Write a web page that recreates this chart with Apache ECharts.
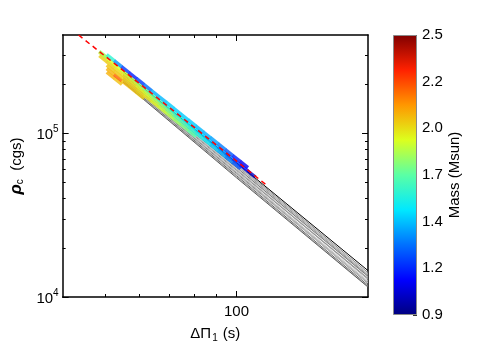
<!DOCTYPE html>
<html><head><meta charset="utf-8">
<script src="https://cdn.jsdelivr.net/npm/echarts@6/dist/echarts.min.js"></script>
<style>html,body{margin:0;padding:0;background:#fff}#c{width:491px;height:350px}</style>
</head><body><div id="c"></div>
<script>
// ---------- data ----------
const xRange = [40, 200];
const yRange = [1e4, 4.0e5];
const xMajor = [100];
const xMinor = [50, 60, 70, 80, 90];
const yMajor = [1e4, 1e5];
const yMinor = [2e4, 3e4, 4e4, 5e4, 6e4, 7e4, 8e4, 9e4, 2e5, 3e5];
const massRange = [0.9, 2.5];
const massLabels = [0.9, 1.1667, 1.4333, 1.7, 1.9667, 2.2333, 2.5];
const massMinor = [1.0333, 1.3, 1.5667, 1.8333, 2.1, 2.3667];
const jet = ['#00007f', '#0000ff', '#0070ff', '#00e8ff', '#5affa5', '#dcff1e', '#ff9700', '#ff2100', '#800000'];

// grey model tracks: rho_c at Delta Pi_1 = trackPeriod
const trackPeriod = [55, 100, 200];
const trackRho = [
  [2.39e5, 6.63e4, 1.45e4], [2.36e5, 6.52e4, 1.41e4], [2.34e5, 6.44e4, 1.38e4], [2.31e5, 6.35e4, 1.36e4],
  [2.29e5, 6.27e4, 1.33e4], [2.27e5, 6.19e4, 1.34e4], [2.25e5, 6.10e4, 1.30e4], [2.23e5, 6.02e4, 1.28e4],
  [2.20e5, 5.94e4, 1.30e4], [2.18e5, 5.85e4, 1.25e4], [2.16e5, 5.78e4, 1.23e4], [2.14e5, 5.70e4, 1.21e4],
  [2.12e5, 5.62e4, 1.22e4], [2.10e5, 5.52e4, 1.18e4], [2.08e5, 5.44e4, 1.16e4], [2.06e5, 5.36e4, 1.15e4]
];
const trackColor = ['#000000', '#8a8a8a', '#b4b4b4', '#9c9c9c', '#c0c0c0', '#7a7a7a', '#c4c4c4', '#a8a8a8',
  '#909090', '#c8c8c8', '#acacac', '#848484', '#bababa', '#6c6c6c', '#a4a4a4', '#5c5c5c'];

// coloured models: rows of (period, rho_c, mass); each row starts at bandPeriod[start]
const bandPeriod = [49.53, 51.50, 53.56, 55.69, 57.91, 60.22, 62.62, 65.12, 67.72, 70.42, 73.22,
  76.14, 79.17, 82.33, 85.61, 89.02, 92.57, 96.26, 100.1, 104.1, 108.2];
const rhoA = [3.04e5, 2.901e5, 2.669e5, 2.455e5, 2.258e5, 2.077e5, 1.911e5, 1.758e5, 1.617e5, 1.488e5, 1.369e5,
  1.259e5, 1.158e5, 1.065e5, 9.80e4, 9.02e4, 8.29e4, 7.63e4, 7.02e4, 6.46e4, 5.65e4];
const massA = [1.8, 1.6, 1.35, 1.2, 1.15, 1.2, 1.3, 1.4, 1.42, 1.45, 1.45, 1.45, 1.45, 1.42, 1.4, 1.38, 1.32, 1.25, 1.15, 1.08, 1.0];
const rhoB = [3.002e5, 2.761e5, 2.540e5, 2.337e5, 2.150e5, 1.978e5, 1.819e5, 1.673e5, 1.539e5, 1.416e5, 1.303e5,
  1.198e5, 1.102e5, 1.014e5, 9.33e4, 8.58e4, 7.90e4, 7.26e4, 6.68e4, 6.15e4];
const massB = [1.95, 1.92, 1.9, 1.88, 1.85, 1.8, 1.75, 1.7, 1.66, 1.62, 1.58, 1.55, 1.52, 1.48, 1.45, 1.4, 1.35, 1.28, 1.2, 1.12];
const rhoC = [2.858e5, 2.629e5, 2.418e5, 2.224e5, 2.046e5, 1.882e5, 1.732e5, 1.593e5, 1.465e5, 1.348e5, 1.240e5,
  1.141e5, 1.049e5, 9.65e4, 8.88e4, 8.17e4, 7.52e4, 6.91e4, 6.36e4];
const massC = [2.0, 2.0, 1.98, 1.97, 1.95, 1.92, 1.88, 1.84, 1.8, 1.75, 1.7, 1.66, 1.62, 1.58, 1.52, 1.46, 1.4, 1.33, 1.25];
const rhoD = [2.502e5, 2.302e5, 2.118e5, 1.948e5, 1.792e5, 1.648e5, 1.516e5, 1.395e5, 1.283e5, 1.180e5, 1.086e5, 9.99e4];
const massD = [2.02, 2.02, 2.0, 2.0, 1.98, 1.95, 1.92, 1.88, 1.84, 1.8, 1.75, 1.7];
const rhoE = [2.382e5, 2.191e5, 2.016e5, 1.854e5, 1.706e5];
const massE = [2.05, 2.2, 2.03, 2.02, 2.0];
const rhoF = [2.267e5, 2.086e5];
const massF = [2.05, 2.02];
const rowStart = [0, 0, 0, 1, 1, 1];

// red dashed relation
const fitPeriod = [43.5, 49.5, 118];
const fitRho = [4.0e5, 3.04e5, 4.76e4];

// ---------- chart ----------
const lg = Math.log10;
const FONT = '"Liberation Sans", Arial, Helvetica, sans-serif';
const chart = echarts.init(document.getElementById('c'), null, {renderer: 'canvas'});

function xAx(pos, ticks, len, line, label, extra) {
  return Object.assign({
    gridIndex: 0, type: 'value', position: pos, min: lg(xRange[0]), max: lg(xRange[1]),
    splitLine: {show: false},
    axisLine: {show: line, onZero: false, lineStyle: {color: '#000', width: 1.5}},
    axisTick: {show: true, inside: true, length: len, customValues: ticks.map(lg), lineStyle: {color: '#000', width: 1}},
    axisLabel: label ? {show: true, customValues: xMajor.map(lg), formatter: v => String(Math.round(Math.pow(10, v))),
      fontSize: 15, color: '#000', margin: 7, fontFamily: FONT} : {show: false}
  }, extra || {});
}
function yAx(pos, ticks, len, line, label, extra) {
  return Object.assign({
    gridIndex: 0, type: 'value', position: pos, min: lg(yRange[0]), max: lg(yRange[1]),
    splitLine: {show: false},
    axisLine: {show: line, onZero: false, lineStyle: {color: '#000', width: 1.5}},
    axisTick: {show: true, inside: true, length: len, customValues: ticks.map(lg), lineStyle: {color: '#000', width: 1}},
    axisLabel: label ? {show: true, customValues: yMajor.map(lg),
      formatter: v => '{b|10}{s|' + Math.round(v) + '}', margin: 4,
      rich: {b: {fontSize: 15, color: '#000', fontFamily: FONT, lineHeight: 18, verticalAlign: 'bottom'},
             s: {fontSize: 10, color: '#000', fontFamily: FONT, lineHeight: 11, verticalAlign: 'top'}}} : {show: false}
  }, extra || {});
}

const series = [];
trackRho.forEach((r, i) => {
  series.push({
    type: 'line', xAxisIndex: 0, yAxisIndex: 0, symbol: 'none', silent: true,
    lineStyle: {color: trackColor[i], width: 1},
    data: trackPeriod.map((p, j) => [lg(p), lg(r[j])])
  });
});
const rows = [[rhoA, massA], [rhoB, massB], [rhoC, massC], [rhoD, massD], [rhoE, massE], [rhoF, massF]];
const bandData = [];
for (let i = rows.length - 1; i >= 0; i--) {
  const [r, m] = rows[i];
  r.forEach((v, k) => bandData.push([lg(bandPeriod[k + rowStart[i]]), lg(v), m[k]]));
}
const scatterIndex = series.length;
series.push({
  type: 'scatter', xAxisIndex: 0, yAxisIndex: 0, silent: true, z: 3,
  symbol: 'rect', symbolSize: [10, 3.4], symbolRotate: -38.5,
  data: bandData
});
series.push({
  type: 'line', xAxisIndex: 0, yAxisIndex: 0, symbol: 'none', silent: true, z: 4,
  lineStyle: {color: '#ff0000', width: 1.5, type: [5, 4]},
  data: fitPeriod.map((p, j) => [lg(p), lg(fitRho[j])])
});
// colour bar
series.push({
  type: 'bar', xAxisIndex: 4, yAxisIndex: 4, stack: 'cb', silent: true, barWidth: '100%',
  itemStyle: {color: 'rgba(0,0,0,0)'}, data: [massRange[0]]
});
series.push({
  type: 'bar', xAxisIndex: 4, yAxisIndex: 4, stack: 'cb', silent: true, barWidth: '100%',
  itemStyle: {
    color: new echarts.graphic.LinearGradient(0, 1, 0, 0, jet.map((c, i) => ({offset: i / (jet.length - 1), color: c}))),
    borderColor: '#8a8a8a', borderWidth: 1
  },
  data: [massRange[1] - massRange[0]]
});

chart.setOption({
  animation: false,
  backgroundColor: '#fff',
  textStyle: {fontFamily: FONT},
  grid: [
    {left: 59, top: 35, width: 309, height: 262},
    {left: 393, top: 35, width: 24, height: 280}
  ],
  xAxis: [
    xAx('bottom', xMajor, 6, true, true, {
      name: '{t|ΔΠ}{u|1}{t| (s)}', nameLocation: 'middle', nameGap: 28,
      nameTextStyle: {rich: {t: {fontSize: 15, color: '#000', fontFamily: FONT},
                             u: {fontSize: 10, color: '#000', fontFamily: FONT, padding: [8, 1, 0, 1]}}}
    }),
    xAx('bottom', xMinor, 3, false, false),
    xAx('top', xMajor, 6, true, false),
    xAx('top', xMinor, 3, false, false),
    {gridIndex: 1, type: 'category', data: ['m'], show: false}
  ],
  yAxis: [
    yAx('left', yMajor, 6, true, true, {
      name: '{r|ρ}{u|c}{t|  (cgs)}', nameLocation: 'middle', nameGap: 32, nameRotate: 90,
      nameTextStyle: {rich: {r: {fontSize: 17, color: '#000', fontFamily: FONT, fontStyle: 'italic', fontWeight: 'bold'},
                             t: {fontSize: 15, color: '#000', fontFamily: FONT},
                             u: {fontSize: 10, color: '#000', fontFamily: FONT, padding: [8, 0, 0, 0]}}}
    }),
    yAx('left', yMinor, 3, false, false),
    yAx('right', yMajor, 6, true, false),
    yAx('right', yMinor, 3, false, false),
    {
      gridIndex: 1, type: 'value', position: 'right', min: massRange[0], max: massRange[1],
      splitLine: {show: false},
      axisLine: {show: false},
      axisTick: {show: true, inside: true, length: 4, customValues: massLabels.concat(massMinor),
        lineStyle: {color: '#333', width: 1}},
      axisLabel: {show: true, customValues: massLabels, formatter: v => v.toFixed(1),
        fontSize: 15, color: '#000', margin: 5, fontFamily: FONT},
      name: 'Mass (Msun)', nameLocation: 'middle', nameGap: 30, nameRotate: 90,
      nameTextStyle: {fontSize: 15, color: '#000', fontFamily: FONT}
    }
  ],
  visualMap: [{
    type: 'continuous', show: false, min: massRange[0], max: massRange[1], dimension: 2,
    seriesIndex: scatterIndex, inRange: {color: jet}
  }],
  series: series
});
</script></body></html>
